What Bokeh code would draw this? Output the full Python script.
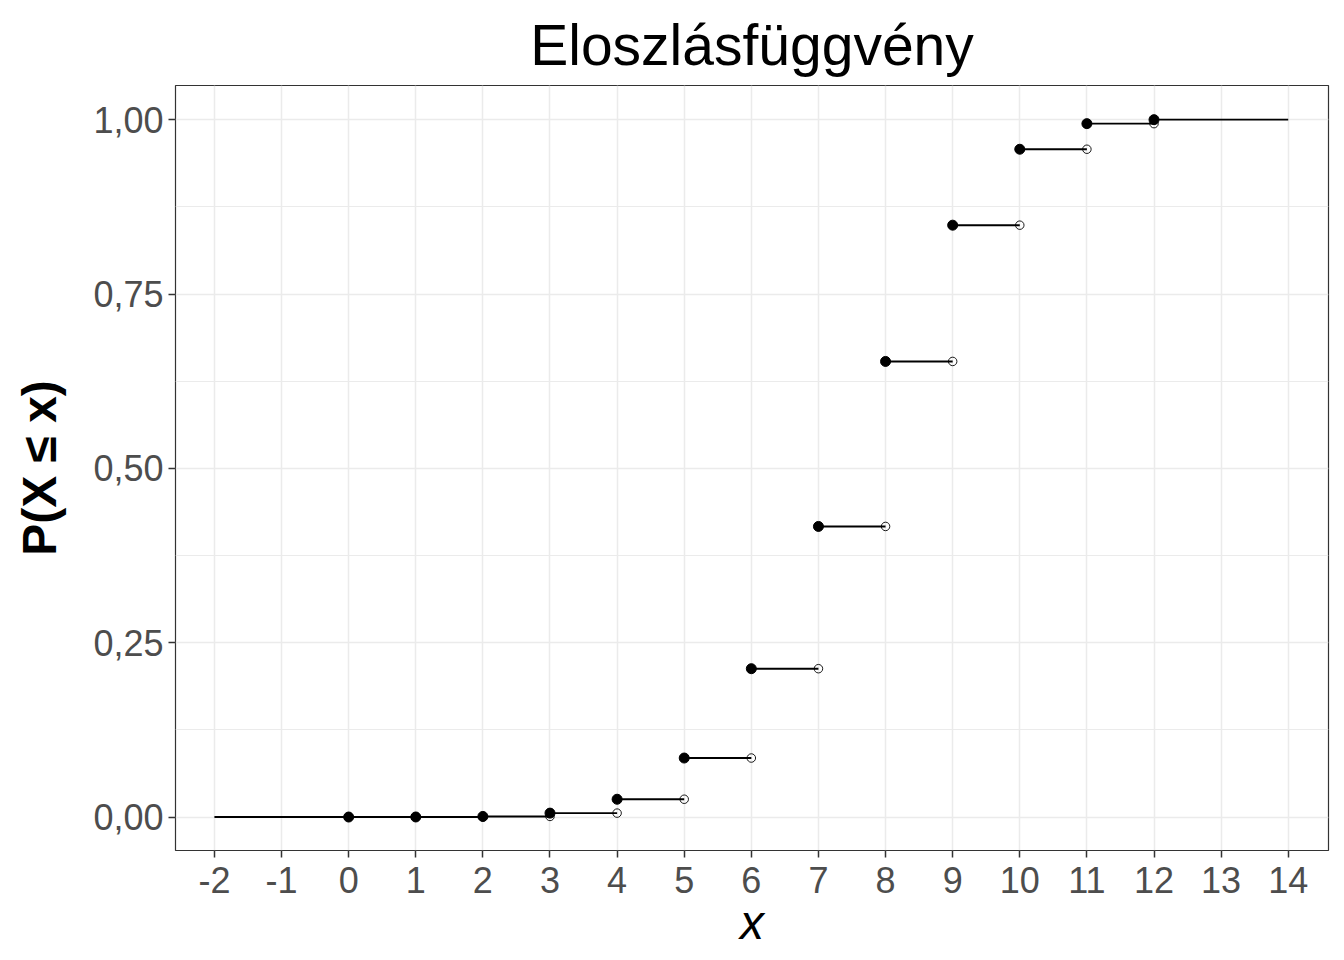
from bokeh.plotting import figure
from bokeh.models import FixedTicker, Range1d
from bokeh.embed import file_html
from bokeh.resources import INLINE

# Data
x_vals = [0, 1, 2, 3, 4, 5, 6, 7, 8, 9, 10, 11, 12]
cdf = [0.0000034, 0.0000787, 0.00085, 0.0056, 0.0255, 0.0846, 0.2127,
       0.4167, 0.6533, 0.8487, 0.9576, 0.9943, 1.0]
x_lower = -2
x_upper = 14
x_ticks = list(range(-2, 15))
x_tick_labels = [str(t) for t in x_ticks]
y_ticks = [0.0, 0.25, 0.5, 0.75, 1.0]
y_tick_labels = ["0,00", "0,25", "0,50", "0,75", "1,00"]
y_minor = [0.125, 0.375, 0.625, 0.875]

# segments
seg_x0 = [x_lower] + x_vals
seg_x1 = [x_vals[0]] + x_vals[1:] + [x_upper]
seg_y = [0.0] + cdf

open_x = [x_vals[0]] + x_vals[1:]
open_y = [0.0] + cdf[:-1]

FONT = "Liberation Sans"

p = figure(width=1336, height=952, output_backend="svg", toolbar_location=None,
           x_range=Range1d(-2.58, 14.6), y_range=Range1d(-0.048, 1.049),
           min_border_left=175, min_border_right=8, min_border_top=85,
           min_border_bottom=102)
p.frame_width = 1153
p.frame_height = 765

p.title.text = "Eloszlásfüggvény"
p.title.text_font = FONT
p.title.text_font_size = "57px"
p.title.text_font_style = "normal"
p.title.align = "center"
p.title.text_color = "black"
p.title.offset = 0
p.title.standoff = 18

p.segment(x0=seg_x0, y0=seg_y, x1=seg_x1, y1=seg_y, line_color="black", line_width=1.9)
p.scatter(x=x_vals, y=cdf, size=10, fill_color="black", line_color="black")
p.scatter(x=open_x, y=open_y, size=8.5, fill_color=None, line_color="black", line_width=0.9)

p.outline_line_color = "#333333"
p.outline_line_width = 1.2
p.background_fill_color = "white"
p.border_fill_color = "white"

p.xaxis.ticker = FixedTicker(ticks=x_ticks)
p.xaxis.major_label_overrides = {t: l for t, l in zip(x_ticks, x_tick_labels)}
p.yaxis.ticker = FixedTicker(ticks=y_ticks, minor_ticks=y_minor)
p.yaxis.major_label_overrides = {t: l for t, l in zip(y_ticks, y_tick_labels)}

for ax in (p.xaxis[0], p.yaxis[0]):
    ax.axis_line_color = None
    ax.major_tick_line_color = "#333333"
    ax.major_tick_line_width = 1.5
    ax.major_tick_out = 7
    ax.major_tick_in = 0
    ax.minor_tick_line_color = None
    ax.major_label_text_font = FONT
    ax.major_label_text_font_size = "36px"
    ax.major_label_text_color = "#4d4d4d"
    ax.axis_label_text_font = FONT
    ax.axis_label_text_color = "black"

p.xaxis.axis_label = "x"
p.xaxis.axis_label_text_font_style = "italic"
p.xaxis.axis_label_text_font_size = "48px"
p.xaxis.axis_label_standoff = 0
p.xaxis.major_label_standoff = 9

p.yaxis.axis_label = "P(X ≤ x)"
p.yaxis.axis_label_text_font_style = "bold"
p.yaxis.axis_label_text_font_size = "48px"
p.yaxis.axis_label_standoff = 24
p.yaxis.major_label_standoff = 5

p.xgrid.grid_line_color = "#ebebeb"
p.xgrid.grid_line_width = 1.5
p.ygrid.grid_line_color = "#ebebeb"
p.ygrid.grid_line_width = 1.5
p.ygrid.minor_grid_line_color = "#ebebeb"
p.ygrid.minor_grid_line_width = 1.0

open("out.html", "w").write(file_html(p, INLINE))
